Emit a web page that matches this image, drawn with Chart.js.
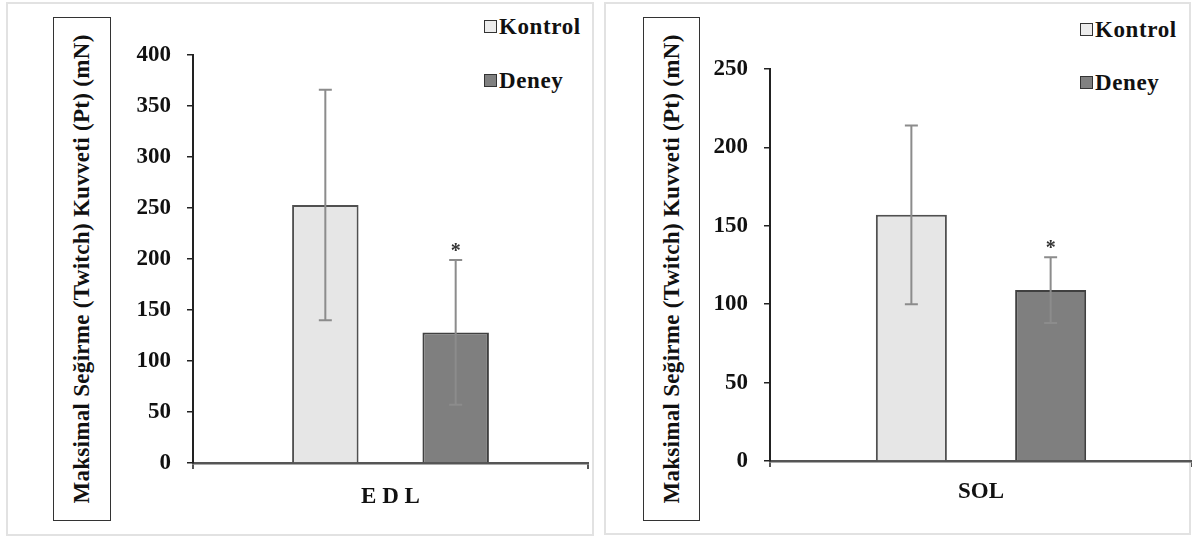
<!DOCTYPE html>
<html>
<head>
<meta charset="utf-8">
<script src="https://cdn.jsdelivr.net/npm/chart.js@4"></script>
<style>
  body { margin: 0; width: 1192px; height: 539px; background: #fff; position: relative; overflow: hidden; font-family: 'Liberation Serif', 'Times New Roman', serif; }
  .panel { position: absolute; border: 2px solid #e2e2e2; box-sizing: border-box; }
  .ybox { position: absolute; border: 1.5px solid #333; box-sizing: border-box; }
  .ybox span { position: absolute; left: 50%; top: 50%; white-space: nowrap; font-weight: bold; font-size: 23px; letter-spacing: 0.3px; color: #111; transform: translate(-50%, -50%) rotate(-90deg); }
  .legend { position: absolute; font-weight: bold; font-size: 23px; letter-spacing: 0.6px; color: #111; line-height: 24px; }
  .legend div { position: absolute; white-space: nowrap; }
  .legend i { display: inline-block; width: 11px; height: 11px; border: 1.5px solid #333; margin-right: 2px; vertical-align: 1px; }
  canvas { position: absolute; }
</style>
</head>
<body>
<div class="panel" style="left:6px;top:2px;width:588px;height:534px;"></div>
<div class="panel" style="left:604px;top:2px;width:587px;height:533px;"></div>

<div class="ybox" style="left:53px;top:17px;width:58px;height:504px;"><span>Maksimal Seğirme (Twitch) Kuvveti (Pt) (mN)</span></div>
<div class="ybox" style="left:643px;top:17px;width:57px;height:504px;"><span>Maksimal Seğirme (Twitch) Kuvveti (Pt) (mN)</span></div>

<div class="legend" style="left:484px;top:15px;">
  <div style="top:0;"><i style="background:#ececec"></i>Kontrol</div>
  <div style="top:54px;"><i style="background:#808080"></i>Deney</div>
</div>
<div class="legend" style="left:1080px;top:18px;">
  <div style="top:0;"><i style="background:#ececec"></i>Kontrol</div>
  <div style="top:53px;"><i style="background:#808080"></i>Deney</div>
</div>

<canvas id="edlChart" style="left:7px;top:3px;" width="586" height="532"></canvas>
<canvas id="solChart" style="left:605px;top:3px;" width="587" height="532"></canvas>

<script>
// --- Data ---
const seriesNames = ['Kontrol', 'Deney'];

const edlLabels = ['E D L'];
const edlKontrol = [253];
const edlKontrolSd = [113];
const edlDeney = [128];
const edlDeneySd = [71];
const edlTicks = [0, 50, 100, 150, 200, 250, 300, 350, 400];

const solLabels = ['SOL'];
const solKontrol = [157];
const solKontrolSd = [57];
const solDeney = [109];
const solDeneySd = [21];
const solTicks = [0, 50, 100, 150, 200, 250];

// datasets marked with * (significant)
const starred = [false, true];

const serifFont = "'Liberation Serif', 'Times New Roman', serif";

// --- Error bars and asterisk ---
const errorBarPlugin = {
    id: 'errorBars',
    afterDatasetsDraw(chart) {
        const ctx = chart.ctx;
        const yScale = chart.scales.y;
        chart.data.datasets.forEach((ds, i) => {
            const meta = chart.getDatasetMeta(i);
            meta.data.forEach((bar, j) => {
                const v = ds.data[j];
                const sd = ds.sd[j];
                const yTop = yScale.getPixelForValue(v + sd);
                const yBot = yScale.getPixelForValue(v - sd);
                const x = bar.x;
                ctx.save();
                ctx.strokeStyle = '#8c8c8c';
                ctx.lineWidth = 2;
                ctx.beginPath();
                ctx.moveTo(x, yTop);
                ctx.lineTo(x, yBot);
                ctx.moveTo(x - 6.5, yTop);
                ctx.lineTo(x + 6.5, yTop);
                ctx.moveTo(x - 6.5, yBot);
                ctx.lineTo(x + 6.5, yBot);
                ctx.stroke();
                if (starred[i]) {
                    ctx.fillStyle = '#333';
                    ctx.font = 'bold 20px ' + serifFont;
                    ctx.textAlign = 'center';
                    ctx.textBaseline = 'alphabetic';
                    ctx.fillText('*', x, yTop - 3);
                }
                ctx.restore();
            });
        });
    }
};

function makeChart(id, labels, kontrol, kontrolSd, deney, deneySd, ticks, area, labelPad) {
    const canvas = document.getElementById(id);
    const maxVal = ticks[ticks.length - 1];
    return new Chart(canvas.getContext('2d'), {
        type: 'bar',
        data: {
            labels: labels,
            datasets: [{
                label: seriesNames[0],
                data: kontrol,
                sd: kontrolSd,
                backgroundColor: '#e6e6e6',
                borderColor: '#505050',
                borderWidth: 2,
                borderSkipped: 'bottom'
            }, {
                label: seriesNames[1],
                data: deney,
                sd: deneySd,
                backgroundColor: '#7f7f7f',
                borderColor: '#404040',
                borderWidth: 2,
                borderSkipped: 'bottom'
            }]
        },
        options: {
            responsive: false,
            animation: false,
            categoryPercentage: 0.66,
            barPercentage: 0.51,
            layout: {
                padding: { left: 0, top: area.top, right: area.right, bottom: 0 }
            },
            plugins: {
                legend: { display: false },
                tooltip: { enabled: false }
            },
            scales: {
                x: {
                    afterFit: (scale) => { scale.height = canvas.height - area.bottom; },
                    grid: {
                        display: true,
                        drawOnChartArea: false,
                        drawTicks: true,
                        tickLength: 6,
                        color: '#555',
                        lineWidth: 2
                    },
                    border: { display: true, color: '#555', width: 2.5 },
                    ticks: {
                        padding: labelPad,
                        color: '#111',
                        font: { family: serifFont, size: 23, weight: 'bold' }
                    }
                },
                y: {
                    min: 0,
                    max: maxVal,
                    afterFit: (scale) => { scale.width = area.left; },
                    afterBuildTicks: (scale) => { scale.ticks = ticks.map(v => ({ value: v })); },
                    grid: {
                        drawOnChartArea: false,
                        drawTicks: true,
                        tickLength: 6,
                        color: '#222',
                        lineWidth: 1.5
                    },
                    border: { display: true, color: '#222', width: 2 },
                    ticks: {
                        padding: 16,
                        color: '#111',
                        font: { family: serifFont, size: 23, weight: 'bold' }
                    }
                }
            }
        },
        plugins: [errorBarPlugin]
    });
}

makeChart('edlChart', edlLabels, edlKontrol, edlKontrolSd, edlDeney, edlDeneySd, edlTicks,
    { left: 186, top: 52, right: 5, bottom: 460 }, 14);
makeChart('solChart', solLabels, solKontrol, solKontrolSd, solDeney, solDeneySd, solTicks,
    { left: 165, top: 66, right: 0, bottom: 458 }, 11);
</script>
</body>
</html>
